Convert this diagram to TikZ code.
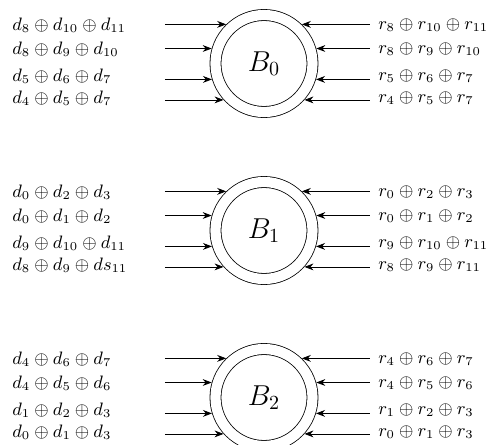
\documentclass[tikz,border=0pt]{standalone}
\usetikzlibrary{arrows.meta}

\begin{document}
\begin{tikzpicture}[x=0.5pt, y=-0.5pt, block/.style={circle, draw, double, double distance=5.1pt, minimum size=48.5pt, inner sep=0pt, outer sep=2.95pt, font=\Large}, lbl/.style={anchor=west, inner sep=0pt, font=\fontsize{9}{11}\selectfont}, arrow/.style={-{Stealth[length=4.5pt, width=3.4pt]}}]
      \useasboundingbox (0,0) rectangle (489,445);
      \coordinate (la) at (165,0); \coordinate (ra) at (370,0);

      \node[block] (b0) at (264,63.5) {$B_0$}; \node[block] (b1) at
      (264,230.5) {$B_1$}; \node[block] (b2) at (264,397.5) {$B_2$};

      \node[lbl] (d0a) at (12,25) {$d_8\oplus d_{10}\oplus d_{11}$};
      \node[lbl] (d0b) at (12,49.5) {$d_8\oplus d_9\oplus d_{10}$};
      \node[lbl] (d0c) at (12,76.5) {$d_5\oplus d_6\oplus d_7$};
      \node[lbl] (d0d) at (12,98.5) {$d_4\oplus d_5\oplus d_7$};
      \node[lbl] (r0a) at (378,25) {$r_8\oplus r_{10}\oplus r_{11}$};
      \node[lbl] (r0b) at (378,49.5) {$r_8\oplus r_9\oplus r_{10}$};
      \node[lbl] (r0c) at (378,76.5) {$r_5\oplus r_6\oplus r_7$};
      \node[lbl] (r0d) at (378,98.5) {$r_4\oplus r_5\oplus r_7$};

      \node[lbl] (d1a) at (12,192) {$d_0\oplus d_2\oplus d_3$};
      \node[lbl] (d1b) at (12,216.5) {$d_0\oplus d_1\oplus d_2$};
      \node[lbl] (d1c) at (12,243.5) {$d_9\oplus d_{10}\oplus d_{11}$};
      \node[lbl] (d1d) at (12,265.5) {$d_8\oplus d_9\oplus ds_{11}$};
      \node[lbl] (r1a) at (378,192) {$r_0\oplus r_2\oplus r_3$};
      \node[lbl] (r1b) at (378,216.5) {$r_0\oplus r_1\oplus r_2$};
      \node[lbl] (r1c) at (378,243.5) {$r_9\oplus r_{10}\oplus r_{11}$};
      \node[lbl] (r1d) at (378,265.5) {$r_8\oplus r_9\oplus r_{11}$};

      \node[lbl] (d2a) at (12,359) {$d_4\oplus d_6\oplus d_7$};
      \node[lbl] (d2b) at (12,383.5) {$d_4\oplus d_5\oplus d_6$};
      \node[lbl] (d2c) at (12,410.5) {$d_1\oplus d_2\oplus d_3$};
      \node[lbl] (d2d) at (12,432.5) {$d_0\oplus d_1\oplus d_3$};
      \node[lbl] (r2a) at (378,359) {$r_4\oplus r_6\oplus r_7$};
      \node[lbl] (r2b) at (378,383.5) {$r_4\oplus r_5\oplus r_6$};
      \node[lbl] (r2c) at (378,410.5) {$r_1\oplus r_2\oplus r_3$};
      \node[lbl] (r2d) at (378,432.5) {$r_0\oplus r_1\oplus r_3$};

      \draw[arrow] (b0.134 -| la) -- (b0.134); \draw[arrow] (b0.164 -| la) --
      (b0.164); \draw[arrow] (b0.197 -| la) -- (b0.197); \draw[arrow] (b0.222
      -| la) -- (b0.222); \draw[arrow] (b0.46 -| ra) -- (b0.46); \draw[arrow]
      (b0.16 -| ra) -- (b0.16); \draw[arrow] (b0.-17 -| ra) -- (b0.-17);
      \draw[arrow] (b0.-42 -| ra) -- (b0.-42);

      \draw[arrow] (b1.134 -| la) -- (b1.134); \draw[arrow] (b1.164 -| la) --
      (b1.164); \draw[arrow] (b1.197 -| la) -- (b1.197); \draw[arrow] (b1.222
      -| la) -- (b1.222); \draw[arrow] (b1.46 -| ra) -- (b1.46); \draw[arrow]
      (b1.16 -| ra) -- (b1.16); \draw[arrow] (b1.-17 -| ra) -- (b1.-17);
      \draw[arrow] (b1.-42 -| ra) -- (b1.-42);

      \draw[arrow] (b2.134 -| la) -- (b2.134); \draw[arrow] (b2.164 -| la) --
      (b2.164); \draw[arrow] (b2.197 -| la) -- (b2.197); \draw[arrow] (b2.222
      -| la) -- (b2.222); \draw[arrow] (b2.46 -| ra) -- (b2.46); \draw[arrow]
      (b2.16 -| ra) -- (b2.16); \draw[arrow] (b2.-17 -| ra) -- (b2.-17);
      \draw[arrow] (b2.-42 -| ra) -- (b2.-42);
    \end{tikzpicture}
\end{document}
